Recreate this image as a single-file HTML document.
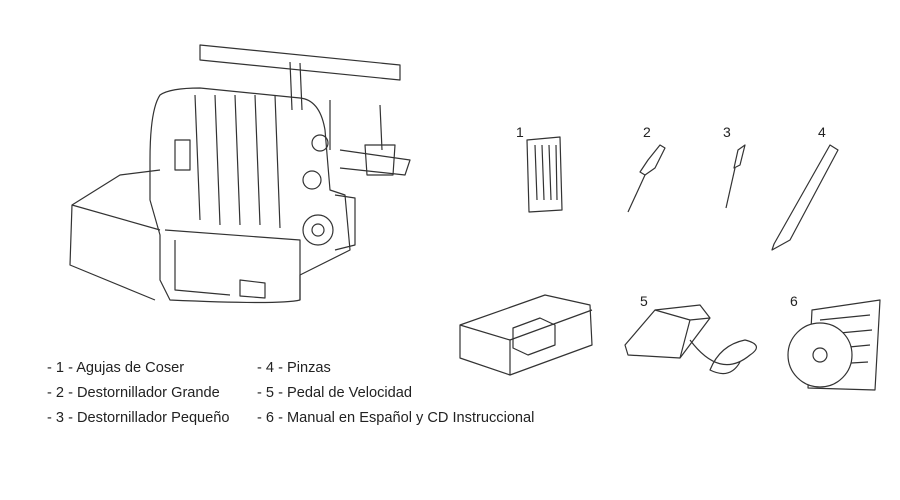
<!DOCTYPE html>
<html><head><meta charset="utf-8"><style>
body{margin:0;background:#fff;width:900px;height:500px;overflow:hidden;font-family:"Liberation Sans",sans-serif}
svg{position:absolute;left:0;top:0}
.t{font-size:14.6px;fill:#222}
.n{font-size:14px;fill:#222}
</style></head><body>
<svg width="900" height="500" viewBox="0 0 900 500" fill="none" stroke="#333" stroke-width="1.2" stroke-linejoin="round">
<!-- thread stand -->
<path d="M200 45 L400 65 L400 80 L200 60 Z"/>
<path d="M290 62 L292 110 M300 63 L302 110"/>
<path d="M330 100 L330 150 M380 105 L382 150"/>
<path d="M365 145 L395 145 L393 175 L367 175 Z"/>
<path d="M340 150 L410 160 L405 175 L340 168"/>
<!-- machine body -->
<path d="M160 95 Q170 88 200 88 L300 98 Q320 100 325 130 L330 190 L345 195 L350 250 L300 275 L300 300 Q280 305 170 300 L160 280 L160 235 L150 200 L150 160 Q150 110 160 95 Z"/>
<path d="M195 95 L200 220 M215 95 L220 225 M235 95 L240 225 M255 95 L260 225 M275 95 L280 228"/>
<path d="M160 170 L120 175 L72 205 L70 265 L155 300"/>
<path d="M72 205 L160 230"/>
<path d="M165 230 L300 240 L300 300"/>
<path d="M175 240 L175 290 L230 295"/>
<path d="M240 280 L265 283 L265 298 L240 296 Z"/>
<circle cx="318" cy="230" r="15"/><circle cx="318" cy="230" r="6"/>
<circle cx="312" cy="180" r="9"/><circle cx="320" cy="143" r="8"/>
<path d="M335 195 L355 198 L355 245 L335 250"/>
<path d="M175 140 L190 140 L190 170 L175 170 Z"/>
<!-- 1 needles -->
<path d="M527 140 L560 137 L562 210 L529 212 Z"/>
<path d="M535 145 L537 200 M542 145 L544 200 M549 145 L551 200 M556 145 L557 200"/>
<!-- 2 big screwdriver -->
<path d="M665 148 L655 168 L645 175 L640 172 L648 160 L660 145 Z"/>
<path d="M645 175 L628 212"/>
<!-- 3 small screwdriver -->
<path d="M745 145 L740 165 L734 168 L738 150 Z"/>
<path d="M735 168 L726 208"/>
<!-- 4 tweezers -->
<path d="M830 145 L838 150 L790 240 L772 250 L774 244 Z"/>
<!-- case -->
<path d="M460 325 L545 295 L590 305 L592 345 L510 375 L460 358 Z"/>
<path d="M460 325 L510 340 L592 310 M510 340 L510 375"/>
<path d="M513 328 L540 318 L555 325 L555 345 L528 355 L513 348 Z"/>
<!-- 5 pedal -->
<path d="M625 345 L655 310 L700 305 L710 318 L680 358 L628 355 Z"/>
<path d="M655 310 L690 320 L680 358 M690 320 L710 318"/>
<path d="M690 340 Q720 380 750 355 Q765 345 745 340 Q720 345 710 370 Q730 380 740 362"/>
<!-- 6 manual & CD -->
<path d="M812 310 L880 300 L875 390 L808 388 Z"/>
<path d="M820 320 L870 315 M818 335 L872 330 M818 350 L870 345 M818 365 L868 362"/>
<circle cx="820" cy="355" r="32" fill="#fff"/><circle cx="820" cy="355" r="7"/>
<g stroke="none" fill="#222">
<text class="n" x="516" y="137">1</text><text class="n" x="643" y="137">2</text>
<text class="n" x="723" y="137">3</text><text class="n" x="818" y="137">4</text>
<text class="n" x="640" y="306">5</text><text class="n" x="790" y="306">6</text>
<text class="t" x="47" y="372">- 1 - Agujas de Coser</text>
<text class="t" x="47" y="397">- 2 - Destornillador Grande</text>
<text class="t" x="47" y="422">- 3 - Destornillador Pequeño</text>
<text class="t" x="257" y="372">- 4 - Pinzas</text>
<text class="t" x="257" y="397">- 5 - Pedal de Velocidad</text>
<text class="t" x="257" y="422">- 6 - Manual en Español y CD Instruccional</text>
</g>
</svg>
</body></html>
